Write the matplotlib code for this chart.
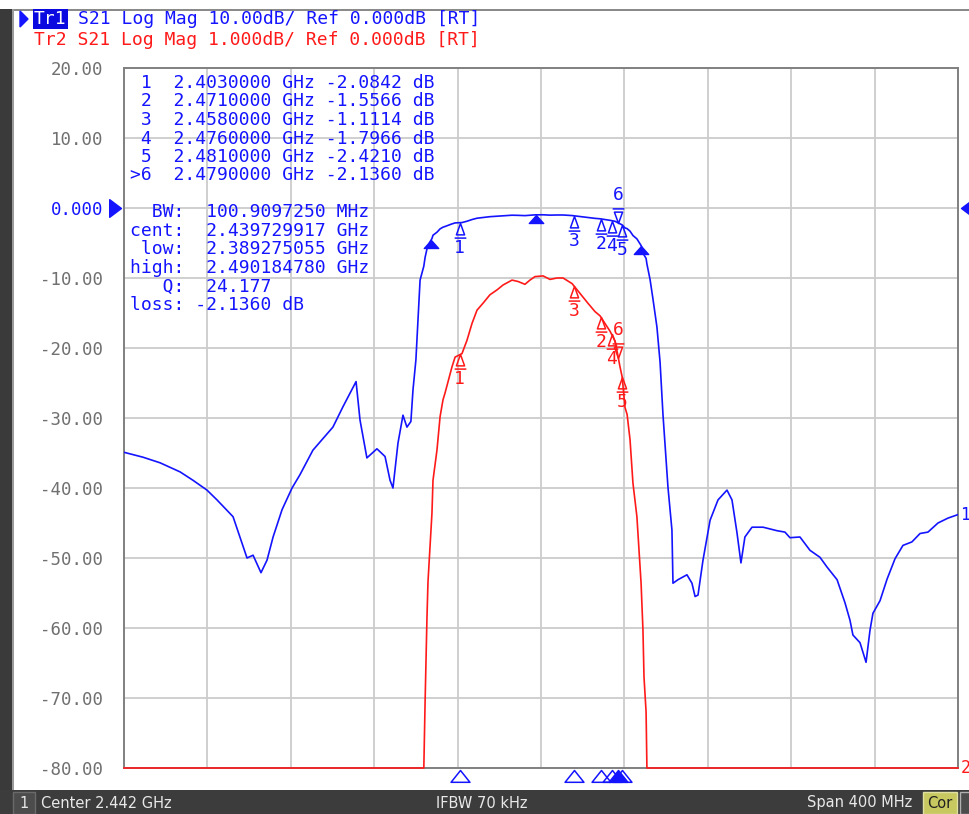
import numpy as np
import matplotlib
matplotlib.use("Agg")
import matplotlib.pyplot as plt
from matplotlib.path import Path
from matplotlib.patches import Rectangle, Polygon
from matplotlib import transforms

# --- instrument settings ---
center_ghz = 2.442
span_mhz = 400.0
tr1_scale = 10.0   # dB/div
tr2_scale = 1.0    # dB/div
ref_db = 0.0
ref_div = 8        # reference line position, divisions from bottom
n_div = 10

# --- S21 trace (frequency in MHz, magnitude in dB) ---
freq_mhz = np.array([
    2242.0, 2251.1, 2259.3, 2268.9, 2275.1, 2281.8, 2286.6, 2294.3, 2297.6, 2301.0,
    2303.9, 2307.7, 2310.6, 2313.5, 2317.8, 2322.6, 2326.4, 2332.6, 2342.2, 2347.0,
    2353.3, 2355.2, 2358.5, 2363.3, 2367.2, 2369.6, 2371.0, 2373.4, 2375.3, 2375.8,
    2377.7, 2379.6, 2380.6, 2382.0, 2384.0, 2385.8, 2386.4, 2386.8, 2387.3, 2387.8,
    2388.8, 2389.7, 2390.2, 2392.1, 2393.6, 2395.0, 2396.0, 2399.3, 2400.8, 2404.1,
    2406.5, 2408.9, 2411.3, 2414.2, 2417.5, 2420.9, 2423.8, 2428.1, 2431.0, 2434.3,
    2436.7, 2439.1, 2443.0, 2446.3, 2449.7, 2452.6, 2456.9, 2460.7, 2464.5, 2467.9,
    2470.3, 2475.1, 2477.5, 2478.5, 2479.9, 2480.9, 2482.3, 2483.3, 2484.7, 2486.1,
    2488.0, 2489.0, 2490.0, 2490.9, 2491.4, 2492.4, 2492.8, 2494.3, 2495.7, 2497.6,
    2499.1, 2500.5, 2502.9, 2504.8, 2505.3, 2507.7, 2512.0, 2514.4, 2515.9, 2517.3,
    2519.7, 2523.1, 2526.9, 2531.2, 2533.6, 2536.0, 2537.9, 2539.8, 2543.2, 2548.5,
    2555.2, 2559.0, 2561.4, 2566.2, 2571.0, 2575.8, 2579.2, 2584.0, 2587.8, 2590.2,
    2591.6, 2595.0, 2597.9, 2599.8, 2601.2, 2604.6, 2608.0, 2611.8, 2615.6, 2619.9,
    2623.8, 2627.6, 2632.4, 2637.2, 2642.0,
])
s21_db = np.array([
    -34.9, -35.6, -36.4, -37.7, -38.9, -40.3, -41.7, -44.1, -47.0, -50.0,
    -49.6, -52.1, -50.3, -47.0, -43.1, -40.0, -38.1, -34.6, -31.3, -28.4,
    -24.8, -30.3, -35.7, -34.4, -35.5, -38.9, -40.0, -33.6, -30.5, -29.6,
    -31.3, -30.5, -26.0, -21.7, -10.3, -8.3, -7.07, -6.55, -5.86, -5.34,
    -4.81, -4.36, -3.89, -3.46, -2.98, -2.74, -2.64, -2.27, -2.13, -2.08,
    -1.89, -1.65, -1.46, -1.36, -1.24, -1.17, -1.10, -1.03, -1.05, -1.09,
    -1.03, -0.98, -0.97, -1.02, -1.00, -1.00, -1.08, -1.22, -1.36, -1.48,
    -1.54, -1.76, -1.90, -2.05, -2.27, -2.41, -2.85, -2.95, -3.31, -3.93,
    -4.41, -4.89, -5.36, -6.03, -6.70, -7.20, -8.00, -10.2, -13.0, -17.0,
    -22.0, -29.5, -39.9, -46.0, -53.6, -53.1, -52.4, -53.6, -55.5, -55.3,
    -50.3, -44.6, -41.7, -40.3, -41.7, -46.4, -50.7, -47.0, -45.6, -45.6,
    -46.1, -46.3, -47.1, -47.0, -48.9, -49.9, -51.3, -53.1, -56.4, -58.9,
    -61.0, -62.1, -64.9, -60.3, -57.9, -56.1, -53.0, -50.1, -48.2, -47.7,
    -46.5, -46.3, -45.0, -44.3, -43.8,
])

# --- markers ---
marker_ids = ["1", "2", "3", "4", "5", "6"]
marker_ghz = [2.4030000, 2.4710000, 2.4580000, 2.4760000, 2.4810000, 2.4790000]
marker_db = [-2.0842, -1.5566, -1.1114, -1.7966, -2.4210, -2.1360]
active_marker = "6"

# --- bandwidth search result ---
bw_mhz = 100.9097250
cent_ghz = 2.439729917
low_ghz = 2.389275055
high_ghz = 2.490184780
q_factor = 24.177
loss_db = -2.1360

BLUE = "#1414ff"
RED = "#ff1a1a"
GRID = "#cccccc"
MONO = "DejaVu Sans Mono"
FS = 13
W, H = 969, 814


def fx(x):
    return x / W


def fy(y):
    return 1 - y / H


def rect(x0, y0, x1, y1, **kw):
    fig.add_artist(Rectangle((fx(x0), fy(y1)), (x1 - x0) / W, (y1 - y0) / H,
                             transform=fig.transFigure, **kw))


fig = plt.figure(figsize=(W / 100, H / 100), dpi=100)
fig.patch.set_facecolor("white")

# frame of the analyzer window
rect(0, 9, W, 11, facecolor="#8a8a8a", edgecolor="none")
rect(0, 9, 13, 790, facecolor="#3a3a3a", edgecolor="none")
rect(12, 9, 14, 790, facecolor="#9a9a9a", edgecolor="none")
rect(0, 790, W, H, facecolor="#3c3c3c", edgecolor="none")
rect(13, 792, 35, H, facecolor="#4c4c4c", edgecolor="#6a6a6a", lw=1)
rect(923, 792, 957, H, facecolor="#c8c860", edgecolor="#e0e0a0", lw=1)
rect(960, 792, W + 2, H, facecolor="#4c4c4c", edgecolor="#b0b0b0", lw=1)

fig.text(fx(24), fy(803), "1", color="#e8e8e8", fontsize=10.5, ha="center", va="center")
fig.text(fx(41), fy(803), f"Center {center_ghz:.3f} GHz", color="#e8e8e8", fontsize=10.5,
         va="center")
fig.text(fx(436), fy(803), "IFBW 70 kHz", color="#e8e8e8", fontsize=10.5, va="center")
fig.text(fx(912), fy(803), f"Span {span_mhz:.0f} MHz", color="#e8e8e8", fontsize=10.5,
         ha="right", va="center")
fig.text(fx(940), fy(803), "Cor", color="#202020", fontsize=10.5, ha="center", va="center")

# trace headers
fig.add_artist(Polygon([[fx(20), fy(11)], [fx(20), fy(27)], [fx(28), fy(19)]],
                       closed=True, transform=fig.transFigure, color=BLUE))
fig.text(fx(34), fy(19), "Tr1", color="white", family=MONO, fontsize=FS, va="center",
         bbox=dict(facecolor="#0a0ae0", edgecolor="none", pad=0.8))
fig.text(fx(78), fy(19), f"S21 Log Mag {tr1_scale:.2f}dB/ Ref {ref_db:.3f}dB [RT]",
         color=BLUE, family=MONO, fontsize=FS, va="center")
fig.text(fx(34), fy(40), f"Tr2 S21 Log Mag {tr2_scale:.3f}dB/ Ref {ref_db:.3f}dB [RT]",
         color=RED, family=MONO, fontsize=FS, va="center")

# --- main grid axes ---
ax = fig.add_axes([fx(124), fy(768), (958 - 124) / W, (768 - 68) / H])
f_lo = center_ghz - span_mhz / 2000
f_hi = center_ghz + span_mhz / 2000
ax.set_xlim(f_lo, f_hi)
y_lo = ref_db - ref_div * tr1_scale
y_hi = ref_db + (n_div - ref_div) * tr1_scale
ax.set_ylim(y_lo, y_hi)
ax.set_xticks(np.linspace(f_lo, f_hi, n_div + 1))
ax.set_xticklabels([])
yt = np.linspace(y_lo, y_hi, n_div + 1)
ax.set_yticks(yt)
ax.set_yticklabels(["0.000" if v == 0 else f"{v:.2f}" for v in yt],
                   family=MONO, fontsize=12.5, color="#707070")
for lab, v in zip(ax.get_yticklabels(), yt):
    if v == ref_db:
        lab.set_color(BLUE)
ax.tick_params(length=0, pad=15)
ax.grid(True, color=GRID, lw=1.3)
ax.set_axisbelow(True)
for s in ax.spines.values():
    s.set_color("#808080")
    s.set_linewidth(1.4)

f_ghz = freq_mhz / 1000.0
ax.plot(f_ghz, s21_db, color=BLUE, lw=1.2, zorder=4)

# trace 2: same S21 on a 1 dB/div scale, clipped at the grid edges
ax2 = ax.twinx()
r_lo = ref_db - ref_div * tr2_scale
r_hi = ref_db + (n_div - ref_div) * tr2_scale
ax2.set_ylim(r_lo, r_hi)
ax2.set_axis_off()
ax2.plot(f_ghz, np.clip(s21_db, r_lo, r_hi), color=RED, lw=1.2, clip_on=False)

# marker symbols
up_sym = Path([(0, 0), (-0.28, -0.78), (0.28, -0.78), (0, 0), (-0.4, -1.0), (0.4, -1.0)],
              [Path.MOVETO, Path.LINETO, Path.LINETO, Path.CLOSEPOLY, Path.MOVETO, Path.LINETO])
down_sym = Path([(0, 0), (-0.28, 0.78), (0.28, 0.78), (0, 0), (-0.4, 1.0), (0.4, 1.0)],
                [Path.MOVETO, Path.LINETO, Path.LINETO, Path.CLOSEPOLY, Path.MOVETO, Path.LINETO])
filled_up = Path([(0, 0), (-0.9, -1.0), (0.9, -1.0), (0, 0)],
                 [Path.MOVETO, Path.LINETO, Path.LINETO, Path.CLOSEPOLY])
edge_up = Path([(0, 0), (-0.8, -1.0), (0.8, -1.0), (0, 0)],
               [Path.MOVETO, Path.LINETO, Path.LINETO, Path.CLOSEPOLY])

for a, col in [(ax, BLUE), (ax2, RED)]:
    for mid, f, v in zip(marker_ids, marker_ghz, marker_db):
        active = mid == active_marker
        a.plot([f], [v], ls="none", marker=down_sym if active else up_sym, ms=21,
               mfc="none", mec=col, mew=1.1, zorder=6, clip_on=False)
        a.annotate(mid, (f, v), xytext=(0, 20 if active else -18), textcoords="offset points",
                   ha="center", va="center", color=col, family=MONO, fontsize=FS, zorder=6)

# bandwidth markers (filled) on trace 1
for f in [low_ghz, cent_ghz, high_ghz]:
    ax.plot([f], [np.interp(f * 1000, freq_mhz, s21_db)], ls="none", marker=filled_up,
            ms=11.5, mfc=BLUE, mec=BLUE, zorder=6)

# marker positions along the bottom edge
bottom = transforms.blended_transform_factory(ax.transData, ax.transAxes)
for mid, f in zip(marker_ids, marker_ghz):
    active = mid == active_marker
    ax.plot([f], [-0.003], ls="none", marker=edge_up, ms=17, mfc=BLUE if active else "none",
            mec=BLUE, mew=1.1, transform=bottom, clip_on=False, zorder=7)

# reference level arrows
side = transforms.blended_transform_factory(ax.transAxes, ax.transData)
ref_right = Path([(0, 0), (-1, 0.75), (-1, -0.75), (0, 0)],
                 [Path.MOVETO, Path.LINETO, Path.LINETO, Path.CLOSEPOLY])
ref_left = Path([(0, 0), (1, 0.75), (1, -0.75), (0, 0)],
                [Path.MOVETO, Path.LINETO, Path.LINETO, Path.CLOSEPOLY])
ax.plot([-0.003], [ref_db], ls="none", marker=ref_right, ms=17, color=BLUE,
        transform=side, clip_on=False)
ax.plot([1.0036], [ref_db], ls="none", marker=ref_left, ms=17, color=BLUE,
        transform=side, clip_on=False)

# trace end labels
ax.text(1.003, s21_db[-1], "1", transform=side, color=BLUE, family=MONO, fontsize=12,
        va="center", ha="left", clip_on=False)
ax.text(1.003, 0.0, "2", transform=ax.transAxes, color=RED, family=MONO, fontsize=12,
        va="center", ha="left", clip_on=False)

# marker readout table
for i, (mid, f, v) in enumerate(zip(marker_ids, marker_ghz, marker_db)):
    tag = (">" if mid == active_marker else " ") + mid
    fig.text(fx(130), fy(83 + i * 18.5), f"{tag}  {f:.7f} GHz {v:.4f} dB",
             color=BLUE, family=MONO, fontsize=FS, va="center")

bw_lines = [
    f"  BW:  {bw_mhz:.7f} MHz",
    f"cent:  {cent_ghz:.9f} GHz",
    f" low:  {low_ghz:.9f} GHz",
    f"high:  {high_ghz:.9f} GHz",
    f"   Q:  {q_factor:.3f}",
    f"loss: {loss_db:.4f} dB",
]
for i, line in enumerate(bw_lines):
    fig.text(fx(130), fy(212 + i * 18.6), line, color=BLUE, family=MONO,
             fontsize=FS, va="center")

fig.savefig("out.png", dpi=100, facecolor="white")
